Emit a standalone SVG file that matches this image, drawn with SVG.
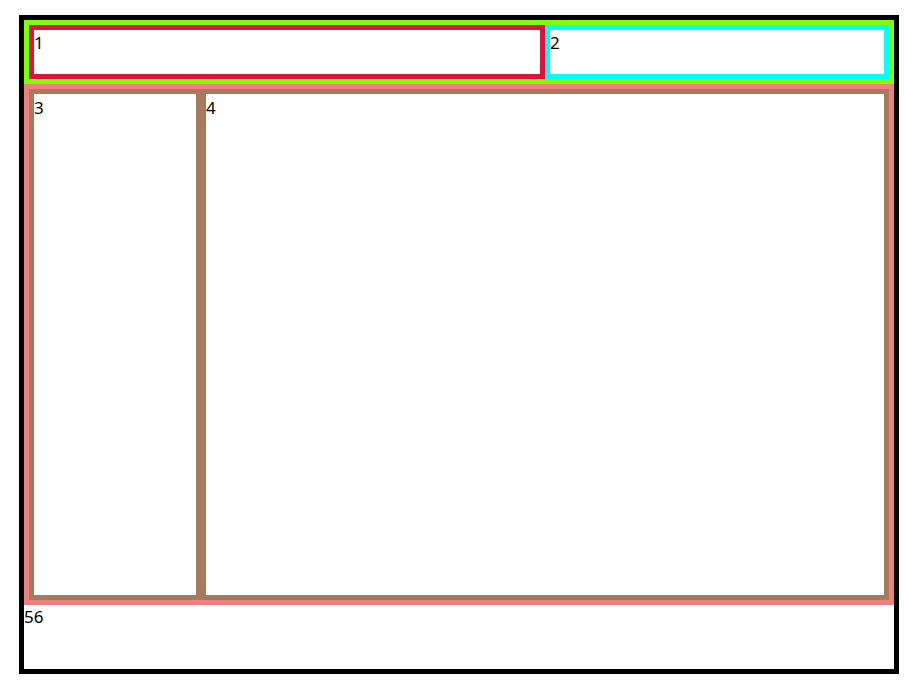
<svg xmlns="http://www.w3.org/2000/svg" width="914" height="681" viewBox="0 0 914 681">
<style>
rect { fill: none; stroke-width: 5; }
text { font-family: "Noto Sans", "DejaVu Sans", sans-serif; font-size: 17px; fill: #000; }
</style>
<rect x="0" y="0" width="914" height="681" style="fill:#fff;stroke:none"/>
<g id="outer">
<rect x="21.5" y="17.5" width="875" height="654" style="stroke:#000"/>
<text x="24" y="623">56</text>
</g>
<g id="header">
<rect x="26.5" y="22.5" width="865" height="59" style="stroke:#7fff00"/>
</g>
<g id="box1">
<rect x="31.5" y="27.5" width="511" height="49" style="stroke:#dc143c"/>
<text x="34" y="48.5">1</text>
</g>
<g id="box2">
<rect x="547.5" y="27.5" width="339" height="49" style="stroke:#00ffff"/>
<text x="550" y="48.5">2</text>
</g>
<g id="main">
<rect x="26.5" y="86.5" width="865" height="516" style="stroke:#f08080"/>
</g>
<g id="box3">
<rect x="31.5" y="91.5" width="167" height="506" style="stroke:#a67b5b"/>
<text x="34" y="114">3</text>
</g>
<g id="box4">
<rect x="203.5" y="91.5" width="683" height="506" style="stroke:#a67b5b"/>
<text x="206" y="114">4</text>
</g>
</svg>
